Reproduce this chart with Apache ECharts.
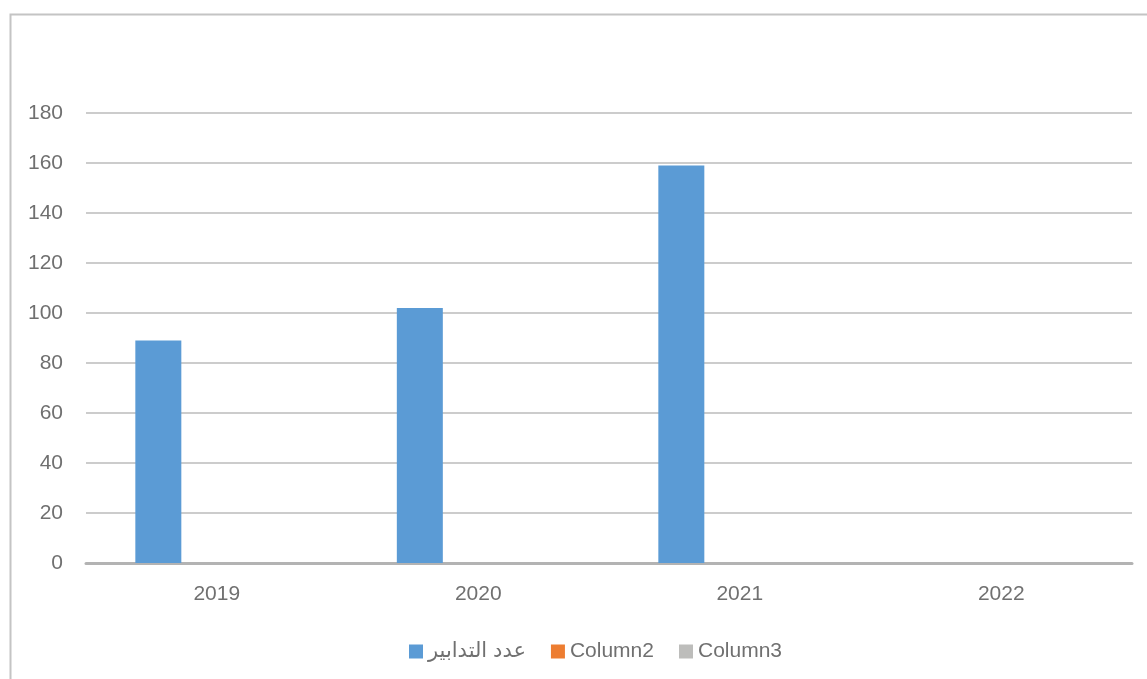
<!DOCTYPE html>
<html>
<head>
<meta charset="utf-8">
<script src="https://cdn.jsdelivr.net/npm/echarts@6/dist/echarts.min.js"></script>
<style>html,body{margin:0;padding:0;background:#fff;}#c{width:1147px;height:679px;}</style>
</head>
<body>
<div id="c"></div>
<script>
const categories = ['2019', '2020', '2021', '2022'];
const seriesNames = ['عدد التدابير', 'Column2', 'Column3'];
const measures = [89, 102, 159, null];
const column2 = [null, null, null, null];
const column3 = [null, null, null, null];
const yTicks = {min: 0, max: 180, interval: 20};

const font = '"Liberation Sans", "DejaVu Sans", sans-serif';
const chart = echarts.init(document.getElementById('c'), null, {renderer: 'canvas'});
chart.setOption({
  animation: false,
  backgroundColor: '#ffffff',
  color: ['#5B9BD5', '#ED7D31', '#BDBDBB'],
  graphic: [{
    type: 'rect', left: 8, top: 12, z: -1,
    shape: {width: 1200, height: 720},
    style: {fill: 'none', stroke: '#c4c4c4', lineWidth: 2}
  }],
  grid: {left: 86, right: 15, top: 113, bottom: 116, containLabel: false},
  legend: {
    left: 404, top: 636,
    itemWidth: 14, itemHeight: 14, itemGap: 25,
    icon: 'rect',
    textStyle: {color: '#707070', fontSize: 21, fontFamily: font},
    data: seriesNames
  },
  xAxis: {
    type: 'category', data: categories,
    axisLine: {lineStyle: {color: '#b3b3b3', width: 3}},
    axisTick: {show: false},
    axisLabel: {color: '#707070', fontSize: 21, fontFamily: font, margin: 21}
  },
  yAxis: {
    type: 'value', min: yTicks.min, max: yTicks.max, interval: yTicks.interval,
    axisLine: {show: false}, axisTick: {show: false},
    axisLabel: {color: '#707070', fontSize: 21, fontFamily: font, margin: 23},
    splitLine: {lineStyle: {color: '#cccccc', width: 2}}
  },
  series: [
    {name: seriesNames[0], type: 'bar', data: measures, barWidth: 46, barGap: '27%'},
    {name: seriesNames[1], type: 'bar', data: column2, barWidth: 46, barGap: '27%'},
    {name: seriesNames[2], type: 'bar', data: column3, barWidth: 46, barGap: '27%'}
  ]
});
</script>
</body>
</html>
